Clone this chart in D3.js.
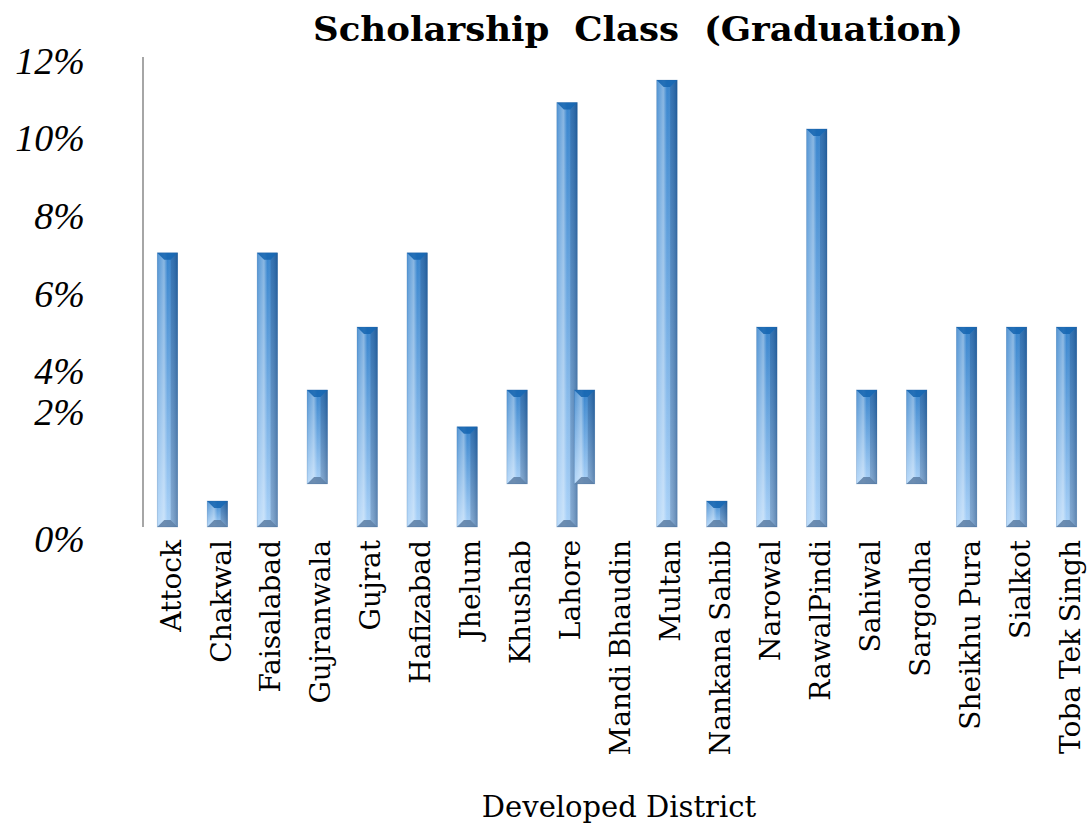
<!DOCTYPE html>
<html>
<head>
<meta charset="utf-8">
<script src="https://cdn.jsdelivr.net/npm/d3@7/dist/d3.min.js"></script>
<style>
  html, body { margin: 0; padding: 0; background: #ffffff; }
  svg { display: block; }
</style>
</head>
<body>
<svg id="chart" width="1089" height="825"></svg>
<script>
// ---- data ----
const categories = ["Attock","Chakwal","Faisalabad","Gujranwala","Gujrat","Hafizabad","Jhelum","Khushab","Lahore","Mandi Bhaudin","Multan","Nankana Sahib","Narowal","RawalPindi","Sahiwal","Sargodha","Sheikhu Pura","Sialkot","Toba Tek Singh"];
const lowValues  = [0, 0, 0, 1.11, 0, 0, 0, 1.11, 0, 0, 0, 0, 0, 0, 1.11, 1.11, 0, 0, 0];
const highValues = [7.06, 0.67, 7.06, 3.53, 5.15, 7.06, 2.58, 3.53, 10.93, 0, 11.51, 0.67, 5.15, 10.25, 3.53, 3.53, 5.15, 5.15, 5.15];
// a stray floating bar drawn just right of Lahore
const extraCategory = ["Lahore"];
const extraLow  = [1.11];
const extraHigh = [3.53];
const tickValues = [0, 2, 4, 6, 8, 10, 12];
const tickLabels = ["0%", "2%", "4%", "6%", "8%", "10%", "12%"];
const titleText = "Scholarship  Class  (Graduation)";
const xTitle = "Developed District";

// ---- layout ----
const svg = d3.select("#chart");
const axisX = 143;
const x = d3.scaleBand().domain(categories).range([142.5, 1091.5]).padding(0);
const y = d3.scaleLinear().domain([0, 12]).range([527, 61]);
const barFrac = 0.41;

// tick-label placement used by the original (0% and 2% labels sit off their grid positions)
const labelScale = d3.scaleLinear()
  .domain([0, 2, 4, 12])
  .range([y(-0.33), y(2.96), y(4), y(12)]);

// ---- gradients ----
const defs = svg.append("defs");
const gBody = defs.append("linearGradient").attr("id", "gBody")
  .attr("x1", 0).attr("y1", 0).attr("x2", 0).attr("y2", 1);
gBody.append("stop").attr("offset", "0%").attr("stop-color", "#2d7ecb");
gBody.append("stop").attr("offset", "100%").attr("stop-color", "#a6d0f8");
const gShade = defs.append("linearGradient").attr("id", "gShade")
  .attr("x1", 0).attr("y1", 0).attr("x2", 1).attr("y2", 0);
gShade.append("stop").attr("offset", "0%").attr("stop-color", "#ffffff").attr("stop-opacity", 0.05);
gShade.append("stop").attr("offset", "35%").attr("stop-color", "#ffffff").attr("stop-opacity", 0.38);
gShade.append("stop").attr("offset", "50%").attr("stop-color", "#ffffff").attr("stop-opacity", 0.05);
gShade.append("stop").attr("offset", "100%").attr("stop-color", "#0a2a55").attr("stop-opacity", 0.32);

function drawBar(g, cx, v0, v1) {
  const w = x.bandwidth() * barFrac;
  const x0 = cx - w / 2, x1 = cx + w / 2;
  const yt = y(v1), yb = y(v0);
  const h = yb - yt;
  if (h <= 0) return;
  const b = Math.min(7, h / 2, w / 2);
  const grp = g.append("g");
  grp.append("rect").attr("x", x0).attr("y", yt).attr("width", w).attr("height", h).attr("fill", "url(#gBody)");
  grp.append("rect").attr("x", x0).attr("y", yt).attr("width", w).attr("height", h).attr("fill", "url(#gShade)");
  const poly = (pts, fill, op) => grp.append("polygon")
    .attr("points", pts.map(p => p.join(",")).join(" "))
    .attr("fill", fill).attr("fill-opacity", op);
  poly([[x0, yt], [x0 + b, yt + b], [x0 + b, yb - b], [x0, yb]], "#ffffff", 0.12);
  poly([[x1, yt], [x1 - b, yt + b], [x1 - b, yb - b], [x1, yb]], "#0b2f60", 0.2);
  poly([[x0, yt], [x1, yt], [x1 - b, yt + b], [x0 + b, yt + b]], "#1565b0", 0.85);
  poly([[x0, yb], [x0 + b, yb - b], [x1 - b, yb - b], [x1, yb]], "#56789f", 0.8);
  grp.append("rect").attr("x", x0).attr("y", yt).attr("width", w).attr("height", h)
    .attr("fill", "none").attr("stroke", "#2a5f95").attr("stroke-opacity", 0.35).attr("stroke-width", 0.6);
}

// ---- bars ----
const barsG = svg.append("g");
categories.forEach((c, i) => {
  drawBar(barsG, x(c) + x.bandwidth() / 2, lowValues[i], highValues[i]);
});
extraCategory.forEach((c, i) => {
  drawBar(barsG, x(c) + x.bandwidth() / 2 + x.bandwidth() * 0.35, extraLow[i], extraHigh[i]);
});

// ---- y axis line ----
svg.append("line")
  .attr("x1", axisX).attr("x2", axisX)
  .attr("y1", y(12.1)).attr("y2", y(0))
  .attr("stroke", "#a6a6a6").attr("stroke-width", 2);

// ---- y tick labels ----
const yAxisG = svg.append("g")
  .attr("transform", `translate(${axisX},0)`)
  .call(d3.axisLeft(labelScale).tickValues(tickValues)
    .tickFormat((d, i) => tickLabels[i]).tickSize(0).tickPadding(58));
yAxisG.select(".domain").remove();
yAxisG.selectAll("text")
  .attr("font-family", "'Liberation Serif', serif")
  .attr("font-style", "italic")
  .attr("font-size", 38)
  .attr("fill", "#000");

// ---- x category labels ----
const xAxisG = svg.append("g")
  .attr("transform", "translate(0,540)")
  .call(d3.axisBottom(x).tickSize(0).tickPadding(0));
xAxisG.select(".domain").remove();
xAxisG.selectAll("text")
  .attr("font-family", "'DejaVu Serif', serif")
  .attr("font-size", 28)
  .attr("word-spacing", -2)
  .attr("fill", "#000")
  .attr("text-anchor", "end")
  .attr("y", 0)
  .attr("dy", "0.36em")
  .attr("transform", "translate(3,0) rotate(-90)");

// ---- titles ----
svg.append("text")
  .attr("x", 638).attr("y", 41)
  .attr("text-anchor", "middle")
  .attr("font-family", "'DejaVu Serif', serif")
  .attr("font-weight", "bold")
  .attr("font-size", 34)
  .attr("textLength", 650)
  .attr("lengthAdjust", "spacingAndGlyphs")
  .style("white-space", "pre")
  .text(titleText);

svg.append("text")
  .attr("x", 619).attr("y", 817)
  .attr("text-anchor", "middle")
  .attr("font-family", "'DejaVu Serif', serif")
  .attr("font-size", 29)
  .attr("fill", "#000")
  .text(xTitle);
</script>
</body>
</html>
